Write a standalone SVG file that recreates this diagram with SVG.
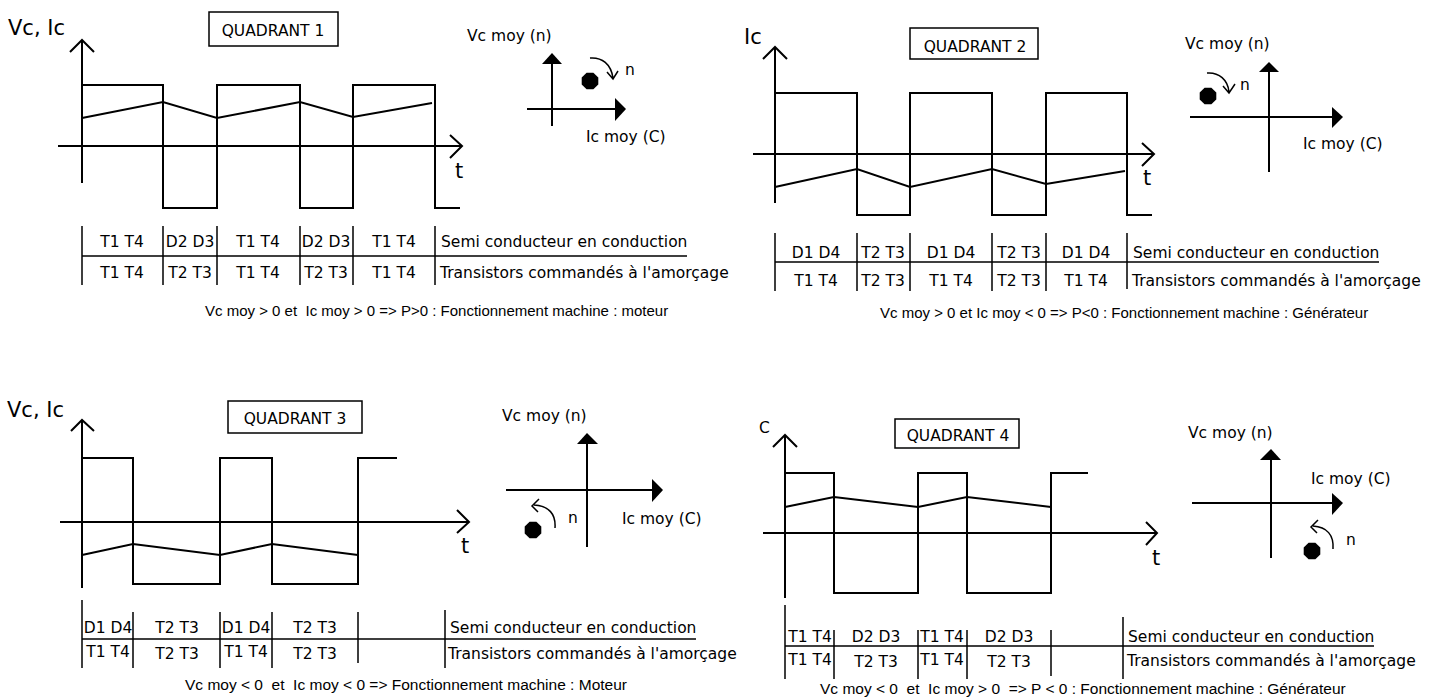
<svg xmlns="http://www.w3.org/2000/svg" width="1439" height="699" viewBox="0 0 1439 699">
<style>
.ln{fill:none;stroke:#000;stroke-width:2;stroke-linejoin:miter}
.tl{fill:none;stroke:#000;stroke-width:1.5}
.ar{fill:#000;stroke:none}
.t{font-family:"DejaVu Sans",sans-serif;font-size:15.5px;fill:#000}
.tm{font-family:"DejaVu Sans",sans-serif;font-size:15.5px;fill:#000;text-anchor:middle}
.cap{font-family:"Liberation Sans",Arial,sans-serif;font-size:15px;fill:#000;white-space:pre}
.big{font-family:"DejaVu Sans",sans-serif;font-size:21px;fill:#000}
</style>
<defs>
<polygon id="dot" points="3.4,-8.3 8.3,-3.4 8.3,3.4 3.4,8.3 -3.4,8.3 -8.3,3.4 -8.3,-3.4 -3.4,-8.3" fill="#000"/>
</defs>
<rect width="1439" height="699" fill="#fff"/>

<!-- QUADRANT 1 -->
<g id="q1">
<g id="q1-wave">
<text class="big" x="8" y="35">Vc, Ic</text>
<path class="ln" d="M82,40 V183 M70,52 L82,40 L94,52"/>
<path class="ln" d="M58,146 H462 M450,135 L462,146 L450,158"/>
<text class="big" x="455" y="178">t</text>
<path class="ln" d="M82,85 H163 V208 H217 V85 H300 V208 H353 V85 H435 V208 H460"/>
<path class="ln" d="M82,118 L163,102 L217,118 L300,102 L353,117 L432,103"/>
</g>
<g id="q1-title">
<rect class="tl" x="209" y="12" width="129" height="34"/>
<text class="tm" x="273" y="36">QUADRANT 1</text>
</g>
<g id="q1-axes">
<text class="t" x="467" y="41">Vc moy (n)</text>
<path class="ln" d="M552,63 V126 M527,109 H616"/>
<polygon class="ar" points="542,64 552,53 562,64"/>
<polygon class="ar" points="615,98 626,109 615,121"/>
<use href="#dot" x="590" y="81"/>
<path class="tl" d="M590,58 C602,57 611,64 613,78 M607,72 L613,79 L618,71"/>
<text class="t" x="625" y="75">n</text>
<text class="t" x="586" y="142">Ic moy (C)</text>
</g>
<g id="q1-table">
<path class="tl" d="M82,226 V285 M163,226 V285 M217,226 V285 M300,226 V285 M353,226 V285 M435,226 V285 M82,256 H687"/>
<text class="tm" x="122" y="247">T1 T4</text>
<text class="tm" x="190" y="247">D2 D3</text>
<text class="tm" x="258" y="247">T1 T4</text>
<text class="tm" x="326" y="247">D2 D3</text>
<text class="tm" x="394" y="247">T1 T4</text>
<text class="tm" x="122" y="278">T1 T4</text>
<text class="tm" x="190" y="278">T2 T3</text>
<text class="tm" x="258" y="278">T1 T4</text>
<text class="tm" x="326" y="278">T2 T3</text>
<text class="tm" x="394" y="278">T1 T4</text>
<text class="t" x="441" y="247">Semi conducteur en conduction</text>
<text class="t" x="440" y="278">Transistors commandés à l'amorçage</text>
<text class="cap" x="205" y="316">Vc moy &gt; 0 et  Ic moy &gt; 0 =&gt; P&gt;0 : Fonctionnement machine : moteur</text>
</g>
</g>

<!-- QUADRANT 2 -->
<g id="q2">
<g id="q2-wave">
<text class="big" x="744" y="44">Ic</text>
<path class="ln" d="M775,47 V203 M763,59 L775,47 L787,59"/>
<path class="ln" d="M753,154 H1154 M1142,143 L1154,154 L1142,166"/>
<text class="big" x="1143" y="185">t</text>
<path class="ln" d="M775,93 H857 V215 H910 V93 H992 V215 H1046 V93 H1127 V215 H1152"/>
<path class="ln" d="M775,187 L857,169 L910,187 L992,169 L1046,184 L1125,171"/>
</g>
<g id="q2-title">
<rect class="tl" x="910" y="28" width="128" height="31"/>
<text class="tm" x="975" y="52">QUADRANT 2</text>
</g>
<g id="q2-axes">
<text class="t" x="1185" y="49">Vc moy (n)</text>
<path class="ln" d="M1269,71 V172 M1190,117 H1333"/>
<polygon class="ar" points="1259,72 1269,62 1279,72"/>
<polygon class="ar" points="1332,107 1343,117 1332,128"/>
<use href="#dot" x="1208" y="96"/>
<path class="tl" d="M1207,73 C1219,72 1228,80 1229,92 M1223,86 L1229,93 L1235,84"/>
<text class="t" x="1240" y="90">n</text>
<text class="t" x="1303" y="149">Ic moy (C)</text>
</g>
<g id="q2-table">
<path class="tl" d="M775,233 V291 M857,233 V291 M910,233 V291 M992,233 V291 M1046,233 V291 M1127,233 V289 M775,262 H1379"/>
<text class="tm" x="816" y="258">D1 D4</text>
<text class="tm" x="883" y="258">T2 T3</text>
<text class="tm" x="951" y="258">D1 D4</text>
<text class="tm" x="1019" y="258">T2 T3</text>
<text class="tm" x="1086" y="258">D1 D4</text>
<text class="tm" x="816" y="286">T1 T4</text>
<text class="tm" x="883" y="286">T2 T3</text>
<text class="tm" x="951" y="286">T1 T4</text>
<text class="tm" x="1019" y="286">T2 T3</text>
<text class="tm" x="1086" y="286">T1 T4</text>
<text class="t" x="1133" y="258">Semi conducteur en conduction</text>
<text class="t" x="1132" y="286">Transistors commandés à l'amorçage</text>
<text class="cap" x="880" y="318">Vc moy &gt; 0 et Ic moy &lt; 0 =&gt; P&lt;0 : Fonctionnement machine : Générateur</text>
</g>
</g>

<!-- QUADRANT 3 -->
<g id="q3">
<g id="q3-wave">
<text class="big" x="7" y="417">Vc, Ic</text>
<path class="ln" d="M82,420 V588 M71,431 L82,420 L94,431"/>
<path class="ln" d="M60,522 H469 M457,510 L469,522 L457,533"/>
<text class="big" x="461" y="553">t</text>
<path class="ln" d="M82,458 H133 V584 H220 V458 H272 V584 H358 V458 H397"/>
<path class="ln" d="M82,555 L133,544 L220,555 L272,544 L358,555"/>
</g>
<g id="q3-title">
<rect class="tl" x="228" y="401" width="134" height="32"/>
<text class="tm" x="295" y="424">QUADRANT 3</text>
</g>
<g id="q3-axes">
<text class="t" x="502" y="421">Vc moy (n)</text>
<path class="ln" d="M587,443 V547 M506,490 H653"/>
<polygon class="ar" points="577,444 587,433 598,444"/>
<polygon class="ar" points="652,479 663,490 652,502"/>
<use href="#dot" x="533" y="530"/>
<path class="tl" d="M555,528 C556,514 549,506 534,505 M539,499 L532,506 L538,512"/>
<text class="t" x="568" y="523">n</text>
<text class="t" x="622" y="524">Ic moy (C)</text>
</g>
<g id="q3-table">
<path class="tl" d="M82,600 V668 M133,612 V668 M220,612 V668 M272,612 V668 M358,612 V663 M445,610 V668 M82,639 H696"/>
<text class="tm" x="108" y="633">D1 D4</text>
<text class="tm" x="177" y="633">T2 T3</text>
<text class="tm" x="246" y="633">D1 D4</text>
<text class="tm" x="315" y="633">T2 T3</text>
<text class="tm" x="108" y="657">T1 T4</text>
<text class="tm" x="177" y="659">T2 T3</text>
<text class="tm" x="246" y="657">T1 T4</text>
<text class="tm" x="315" y="659">T2 T3</text>
<text class="t" x="450" y="633">Semi conducteur en conduction</text>
<text class="t" x="448" y="659">Transistors commandés à l'amorçage</text>
<text class="cap" x="185" y="690" style="font-size:15.5px">Vc moy &lt; 0  et  Ic moy &lt; 0 =&gt; Fonctionnement machine : Moteur</text>
</g>
</g>

<!-- QUADRANT 4 -->
<g id="q4">
<g id="q4-wave">
<text class="t" x="759" y="433">C</text>
<path class="ln" d="M785,435 V598 M773,447 L785,435 L797,447"/>
<path class="ln" d="M763,533 H1157 M1146,522 L1157,533 L1146,545"/>
<text class="big" x="1152" y="565">t</text>
<path class="ln" d="M785,473 H834 V593 H918 V473 H967 V593 H1051 V473 H1088"/>
<path class="ln" d="M785,507 L834,497 L918,507 L967,497 L1051,507"/>
</g>
<g id="q4-title">
<rect class="tl" x="895" y="419" width="124" height="29"/>
<text class="tm" x="958" y="441">QUADRANT 4</text>
</g>
<g id="q4-axes">
<text class="t" x="1188" y="438">Vc moy (n)</text>
<path class="ln" d="M1271,459 V558 M1192,503 H1333"/>
<polygon class="ar" points="1260,460 1271,449 1281,460"/>
<polygon class="ar" points="1332,493 1343,503 1332,515"/>
<use href="#dot" x="1312" y="551"/>
<path class="tl" d="M1333,549 C1334,535 1327,527 1313,526 M1318,520 L1311,527 L1317,533"/>
<text class="t" x="1346" y="545">n</text>
<text class="t" x="1311" y="484">Ic moy (C)</text>
</g>
<g id="q4-table">
<path class="tl" d="M785,605 V679 M834,630 V679 M918,630 V679 M967,630 V679 M1051,630 V676 M1123,617 V679 M785,646 H1374"/>
<text class="tm" x="810" y="642">T1 T4</text>
<text class="tm" x="876" y="642">D2 D3</text>
<text class="tm" x="942" y="642">T1 T4</text>
<text class="tm" x="1009" y="642">D2 D3</text>
<text class="tm" x="810" y="665">T1 T4</text>
<text class="tm" x="876" y="667">T2 T3</text>
<text class="tm" x="942" y="665">T1 T4</text>
<text class="tm" x="1009" y="667">T2 T3</text>
<text class="t" x="1128" y="642">Semi conducteur en conduction</text>
<text class="t" x="1127" y="666">Transistors commandés à l'amorçage</text>
<text class="cap" x="820" y="694" style="font-size:15.5px">Vc moy &lt; 0  et  Ic moy &gt; 0  =&gt; P &lt; 0 : Fonctionnement machine : Générateur</text>
</g>
</g>
</svg>
